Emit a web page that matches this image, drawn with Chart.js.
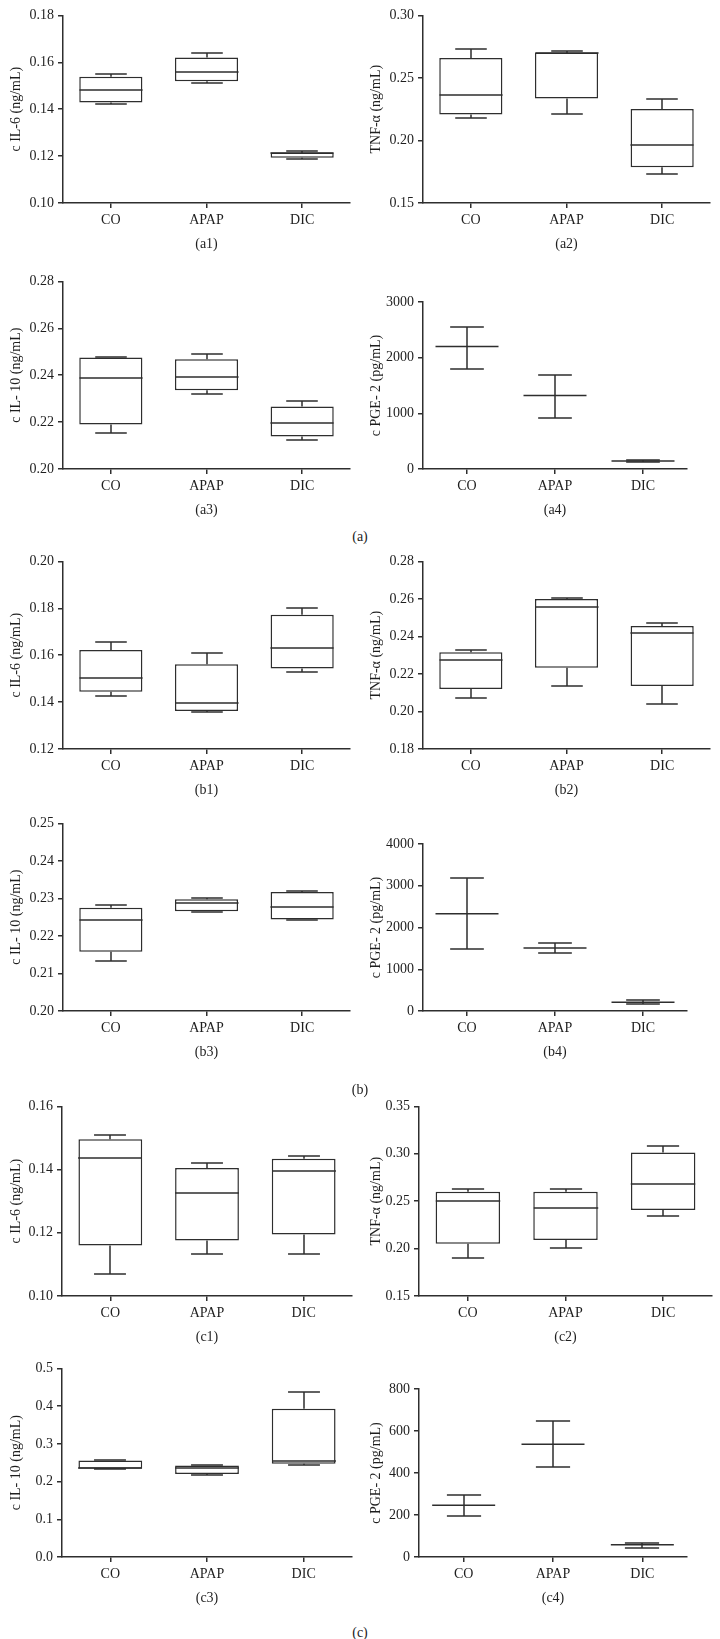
<!DOCTYPE html>
<html>
<head>
<meta charset="utf-8">
<script src="https://cdn.jsdelivr.net/npm/chart.js@4.4.1/dist/chart.umd.min.js"></script>
<style>
  body { margin: 0; background: #fff; }
  #page { position: relative; width: 720px; height: 1639px; overflow: hidden; }
  #page canvas { position: absolute; }
  .section { position: absolute; width: 60px; text-align: center; line-height: 16px;
             font: 14px 'Liberation Serif', 'Times New Roman', serif; color: #222; }
</style>
</head>
<body>
<div id="page"></div>
<script>
const groups = ['CO', 'APAP', 'DIC'];

// box panels: [min, q1, median, q3, max] for CO, APAP, DIC
const a1IL6  = [[0.1424, 0.1429, 0.1480, 0.1538, 0.1551], [0.1512, 0.1519, 0.1557, 0.1621, 0.1639], [0.1189, 0.1193, 0.1214, 0.1215, 0.1221]];
const a2TNF  = [[0.2183, 0.2207, 0.2360, 0.2660, 0.2730], [0.2212, 0.2335, 0.2700, 0.2704, 0.2712], [0.1730, 0.1785, 0.1966, 0.2251, 0.2332]];
const a3IL10 = [[0.2153, 0.2190, 0.2386, 0.2476, 0.2478], [0.2319, 0.2336, 0.2394, 0.2468, 0.2492], [0.2122, 0.2139, 0.2196, 0.2267, 0.2292]];
const b1IL6  = [[0.1428, 0.1444, 0.1502, 0.1622, 0.1656], [0.1359, 0.1362, 0.1397, 0.1561, 0.1608], [0.1527, 0.1543, 0.1632, 0.1772, 0.1800]];
const b2TNF  = [[0.2071, 0.2120, 0.2275, 0.2316, 0.2330], [0.2134, 0.2233, 0.2556, 0.2600, 0.2604], [0.2041, 0.2136, 0.2419, 0.2456, 0.2470]];
const b3IL10 = [[0.2134, 0.2158, 0.2242, 0.2275, 0.2283], [0.2264, 0.2266, 0.2287, 0.2298, 0.2301], [0.2243, 0.2244, 0.2277, 0.2317, 0.2319]];
const c1IL6  = [[0.1070, 0.1160, 0.1437, 0.1496, 0.1511], [0.1132, 0.1176, 0.1326, 0.1405, 0.1421], [0.1132, 0.1195, 0.1397, 0.1434, 0.1443]];
const c2TNF  = [[0.1906, 0.2052, 0.2500, 0.2601, 0.2633], [0.2007, 0.2091, 0.2427, 0.2601, 0.2633], [0.2346, 0.2406, 0.2685, 0.3014, 0.3080]];
const c3IL10 = [[0.2322, 0.2339, 0.2357, 0.2557, 0.2574], [0.2183, 0.2200, 0.2348, 0.2426, 0.2443], [0.2452, 0.2470, 0.2557, 0.3930, 0.4374]];

// PGE-2 panels: [low, mean, high]
const a4PGE = [[1805, 2200, 2558], [921, 1319, 1691], [128, 142, 156]];
const b4PGE = [[1480, 2330, 3180], [1394, 1507, 1627], [162, 211, 268]];
const c4PGE = [[197, 246, 296], [428, 537, 646], [44, 58, 69]];

// y tick values
const ticksA1 = [0.10, 0.12, 0.14, 0.16, 0.18];
const ticksA2 = [0.15, 0.20, 0.25, 0.30];
const ticksA3 = [0.20, 0.22, 0.24, 0.26, 0.28];
const ticksA4 = [0, 1000, 2000, 3000];
const ticksB1 = [0.12, 0.14, 0.16, 0.18, 0.20];
const ticksB2 = [0.18, 0.20, 0.22, 0.24, 0.26, 0.28];
const ticksB3 = [0.20, 0.21, 0.22, 0.23, 0.24, 0.25];
const ticksB4 = [0, 1000, 2000, 3000, 4000];
const ticksC1 = [0.10, 0.12, 0.14, 0.16];
const ticksC2 = [0.15, 0.20, 0.25, 0.30, 0.35];
const ticksC3 = [0.0, 0.1, 0.2, 0.3, 0.4, 0.5];
const ticksC4 = [0, 200, 400, 600, 800];

const IL6 = 'c IL-6 (ng/mL)', TNF = 'TNF-α (ng/mL)', IL10 = 'c IL- 10 (ng/mL)', PGE = 'c PGE- 2 (pg/mL)';

const panels = [
  { id: 'a1', kind: 'box',   stats: a1IL6,  ticks: ticksA1, dec: 2, title: IL6,  row: 0, col: 0 },
  { id: 'a2', kind: 'box',   stats: a2TNF,  ticks: ticksA2, dec: 2, title: TNF,  row: 0, col: 1 },
  { id: 'a3', kind: 'box',   stats: a3IL10, ticks: ticksA3, dec: 2, title: IL10, row: 1, col: 0 },
  { id: 'a4', kind: 'range', stats: a4PGE,  ticks: ticksA4, dec: 0, title: PGE,  row: 1, col: 1 },
  { id: 'b1', kind: 'box',   stats: b1IL6,  ticks: ticksB1, dec: 2, title: IL6,  row: 2, col: 0 },
  { id: 'b2', kind: 'box',   stats: b2TNF,  ticks: ticksB2, dec: 2, title: TNF,  row: 2, col: 1 },
  { id: 'b3', kind: 'box',   stats: b3IL10, ticks: ticksB3, dec: 2, title: IL10, row: 3, col: 0 },
  { id: 'b4', kind: 'range', stats: b4PGE,  ticks: ticksB4, dec: 0, title: PGE,  row: 3, col: 1 },
  { id: 'c1', kind: 'box',   stats: c1IL6,  ticks: ticksC1, dec: 2, title: IL6,  row: 4, col: 0 },
  { id: 'c2', kind: 'box',   stats: c2TNF,  ticks: ticksC2, dec: 2, title: TNF,  row: 4, col: 1 },
  { id: 'c3', kind: 'box',   stats: c3IL10, ticks: ticksC3, dec: 1, title: IL10, row: 5, col: 0 },
  { id: 'c4', kind: 'range', stats: c4PGE,  ticks: ticksC4, dec: 0, title: PGE,  row: 5, col: 1 }
];

// page layout (px)
const rowTop    = [13, 279, 559, 821, 1104, 1366];
const rowBottom = [203, 469, 749, 1011, 1296, 1557];
const axisX   = [[63, 423], [63, 423], [63, 423], [63, 423], [62, 419], [62, 419]];
const axisEnd = [[350, 710], [350, 710], [350, 710], [350, 710], [352, 712], [352, 712]];
const sections = [['(a)', 537], ['(b)', 1090], ['(c)', 1633]];

const LINE = '#2e2e2e';
const TEXT = '#1e1e1e';
const FONT = { family: "'Liberation Serif', 'Times New Roman', serif", size: 14 };
const LW = 1.5;
const BOX_FRAC = 0.66;   // box width / category width
const CAP_BOX = 0.5;     // whisker cap width relative to the box
const CAP_RANGE = 0.58;

const page = document.getElementById('page');

// whiskers, caps and medians drawn on top of the datasets
function whiskers(p) {
    return {
        id: 'whiskers',
        afterDatasetsDraw(chart) {
            const { ctx, scales: { x, y } } = chart;
            const step = x.getPixelForValue(1) - x.getPixelForValue(0);
            const boxW = step * BOX_FRAC;
            const capW = boxW * (p.kind === 'box' ? CAP_BOX : CAP_RANGE);
            const hline = (cx, v, w) => {
                const py = Math.round(y.getPixelForValue(v));
                ctx.moveTo(cx - w / 2, py);
                ctx.lineTo(cx + w / 2, py);
            };
            const vline = (cx, v1, v2) => {
                ctx.moveTo(cx, y.getPixelForValue(v1));
                ctx.lineTo(cx, y.getPixelForValue(v2));
            };
            ctx.save();
            ctx.strokeStyle = LINE;
            ctx.lineWidth = LW;
            ctx.beginPath();
            p.stats.forEach((s, i) => {
                const cx = Math.round(x.getPixelForValue(i));
                if (p.kind === 'box') {
                    vline(cx, s[3], s[4]);
                    vline(cx, s[1], s[0]);
                    hline(cx, s[4], capW);
                    hline(cx, s[0], capW);
                    hline(cx, s[2], boxW);
                } else {
                    vline(cx, s[0], s[2]);
                    hline(cx, s[0], capW);
                    hline(cx, s[2], capW);
                }
            });
            ctx.stroke();
            ctx.restore();
        }
    };
}

function makeChart(p) {
    const colOff = p.col * 360;
    const top = rowTop[p.row], bottom = rowBottom[p.row];
    const axisW = axisX[p.row][p.col] - colOff;
    const right = 360 - (axisEnd[p.row][p.col] - colOff);

    const canvas = document.createElement('canvas');
    canvas.width = 360;
    canvas.height = bottom - top + 60;
    canvas.style.left = colOff + 'px';
    canvas.style.top = (top - 10) + 'px';
    page.appendChild(canvas);

    const dataset = p.kind === 'box'
        ? {
            type: 'bar',
            data: p.stats.map(s => [s[1], s[3]]),
            backgroundColor: '#fff',
            borderColor: LINE,
            borderWidth: LW,
            borderSkipped: false,
            barPercentage: BOX_FRAC,
            categoryPercentage: 1
        }
        : {
            type: 'line',
            data: p.stats.map(s => s[1]),
            showLine: false,
            pointStyle: 'line',
            pointRadius: 31.5,
            pointBorderColor: LINE,
            pointBorderWidth: LW
        };

    new Chart(canvas, {
        type: 'bar',
        data: { labels: groups, datasets: [dataset] },
        options: {
            responsive: false,
            animation: false,
            devicePixelRatio: 1,
            events: [],
            layout: { padding: { top: 10, right: right, left: 0, bottom: 0 } },
            plugins: { legend: { display: false }, tooltip: { enabled: false } },
            scales: {
                x: {
                    offset: true,
                    afterFit: s => { s.height = 50; },
                    grid: { offset: false, drawOnChartArea: false, tickLength: 5, color: LINE, lineWidth: LW },
                    border: { color: LINE, width: LW },
                    ticks: { padding: 4, color: TEXT, font: FONT },
                    title: { display: true, text: '(' + p.id + ')', color: TEXT, font: FONT, padding: 0 }
                },
                y: {
                    min: p.ticks[0],
                    max: p.ticks[p.ticks.length - 1],
                    afterBuildTicks: s => { s.ticks = p.ticks.map(v => ({ value: v })); },
                    afterFit: s => { s.width = axisW; },
                    grid: { drawOnChartArea: false, tickLength: 5, color: LINE, lineWidth: LW },
                    border: { color: LINE, width: LW },
                    ticks: { padding: 4, color: TEXT, font: FONT, autoSkip: false, callback: v => v.toFixed(p.dec) },
                    title: { display: true, text: p.title, color: TEXT, font: FONT, padding: { top: 8, bottom: 0 } }
                }
            }
        },
        plugins: [whiskers(p)]
    });
}

panels.forEach(makeChart);

sections.forEach(([label, y]) => {
    const el = document.createElement('div');
    el.className = 'section';
    el.textContent = label;
    el.style.left = '330px';
    el.style.top = (y - 8) + 'px';
    page.appendChild(el);
});
</script>
</body>
</html>
